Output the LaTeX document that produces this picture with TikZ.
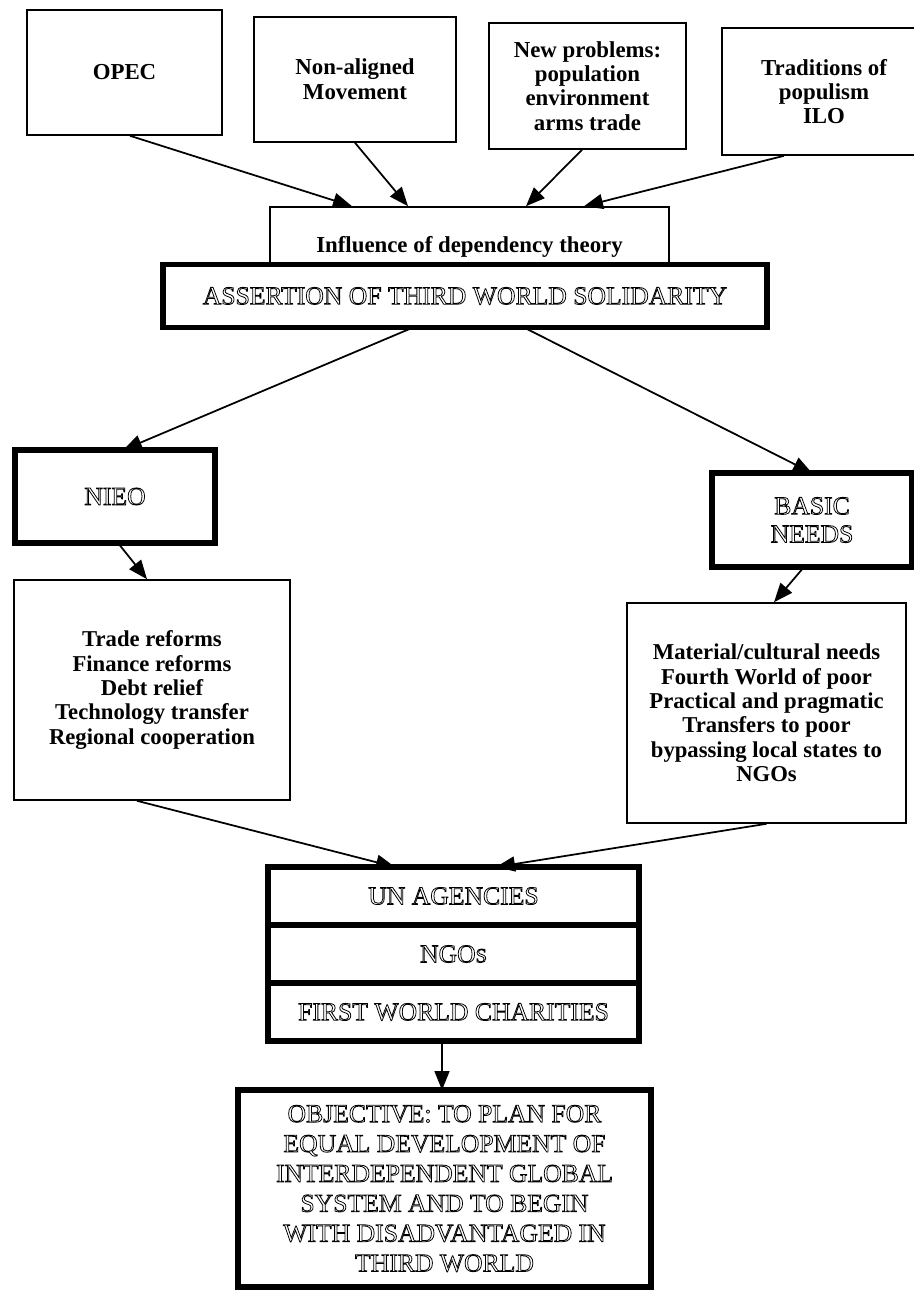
\documentclass[tikz,border=0pt]{standalone}
\usepackage{fontspec}
\setmainfont{Liberation Serif}
\usepackage{tikz}
\usetikzlibrary{positioning, arrows.meta}

% hollow (outlined) capitals
\newcommand{\hollow}[1]{\special{pdf:literal direct 1 Tr 0.45 w}#1\special{pdf:literal direct 0 Tr}}

\begin{document}
\begin{tikzpicture}[
    plainbox/.style={draw, line width=0.9pt, fill=white, align=center, inner sep=2pt,
                     font=\bfseries\fontsize{13}{13.8}\selectfont},
    listbox/.style={plainbox, font=\bfseries\fontsize{12.9}{13.9}\selectfont},
    heavybox/.style={draw, line width=3.4pt, fill=white, align=center, outer sep=0pt,
                     font=\fontsize{14.6}{16}\selectfont},
    arr/.style={-{Triangle[length=0.38cm, width=0.3cm]}, line width=1pt}
]
  \useasboundingbox (0,0) rectangle (18.28,-25.9);

  % Nodes
  \node[plainbox, minimum width=3.9cm, minimum height=2.5cm] (opec) at (2.49,-1.45) {OPEC};
  \node[plainbox, minimum width=4.04cm, minimum height=2.5cm, font=\bfseries\fontsize{13}{14.2}\selectfont] (nam) at (7.10,-1.59) {Non-aligned\\Movement};
  \node[plainbox, minimum width=3.94cm, minimum height=2.52cm] (newp) at (11.75,-1.72) {New problems:\\population\\environment\\arms trade};
  \node[plainbox, minimum width=4.08cm, minimum height=2.54cm] (trad) at (16.48,-1.83) {Traditions of\\populism\\ILO};

  \node[plainbox, minimum width=7.98cm, minimum height=1.6cm] (infl) at (9.39,-4.94) {Influence of dependency theory};
  \node[heavybox, minimum width=12.08cm, minimum height=1.26cm] (assert) at (9.30,-5.92) {\hollow{ASSERTION OF THIRD WORLD SOLIDARITY}};

  \node[heavybox, minimum width=4.0cm, minimum height=1.86cm] (nieo) at (2.30,-9.93) {\hollow{NIEO}};
  \node[heavybox, minimum width=4.0cm, minimum height=1.88cm] (basic) at (16.24,-10.40) {\hollow{BASIC\\NEEDS}};

  \node[listbox, minimum width=5.52cm, minimum height=4.4cm] (reforms) at (3.04,-13.80)
    {Trade reforms\\Finance reforms\\Debt relief\\Technology transfer\\Regional cooperation};
  \node[listbox, minimum width=5.58cm, minimum height=4.4cm] (needs) at (15.33,-14.26)
    {Material/cultural needs\\Fourth World of poor\\Practical and pragmatic\\Transfers to poor\\bypassing local states to\\NGOs};

  \node[heavybox, minimum width=7.42cm, minimum height=1.16cm] (un) at (9.07,-17.92) {\hollow{UN AGENCIES}};
  \node[heavybox, minimum width=7.42cm, minimum height=1.16cm, below=0cm of un] (ngo) {\hollow{NGO\fontsize{11.5}{12}\selectfont S}};
  \node[heavybox, minimum width=7.42cm, minimum height=1.16cm, below=0cm of ngo] (fwc) {\hollow{FIRST WORLD CHARITIES}};

  \node[heavybox, minimum width=8.26cm, minimum height=3.94cm, font=\fontsize{14.6}{17}\selectfont] (obj) at (8.89,-23.77)
    {\hollow{OBJECTIVE: TO PLAN FOR\\EQUAL DEVELOPMENT OF\\INTERDEPENDENT GLOBAL\\SYSTEM AND TO BEGIN\\WITH DISADVANTAGED IN\\THIRD WORLD}};

  % Arrows
  \draw[arr] ([xshift=0.11cm]opec.south) -- ([xshift=-2.35cm]infl.north);
  \draw[arr] (nam.south) -- ([xshift=-1.23cm]infl.north);
  \draw[arr] ([xshift=-0.11cm]newp.south) -- ([xshift=1.13cm]infl.north);
  \draw[arr] ([xshift=-0.8cm]trad.south) -- ([xshift=2.29cm]infl.north);

  \draw[arr] ([xshift=-1.04cm]assert.south) -- ([xshift=0.16cm]nieo.north);
  \draw[arr] ([xshift=1.18cm]assert.south) -- (basic.north);

  \draw[arr] ([xshift=0.06cm]nieo.south) -- ([xshift=-0.1cm]reforms.north);
  \draw[arr] ([xshift=-0.16cm]basic.south) -- ([xshift=0.15cm]needs.north);

  \draw[arr] ([xshift=-0.3cm]reforms.south) -- ([xshift=-1.17cm]un.north);
  \draw[arr] (needs.south) -- ([xshift=0.85cm]un.north);

  \draw[arr] ([xshift=-0.23cm]fwc.south) -- ([xshift=-0.05cm]obj.north);

\end{tikzpicture}
\end{document}
